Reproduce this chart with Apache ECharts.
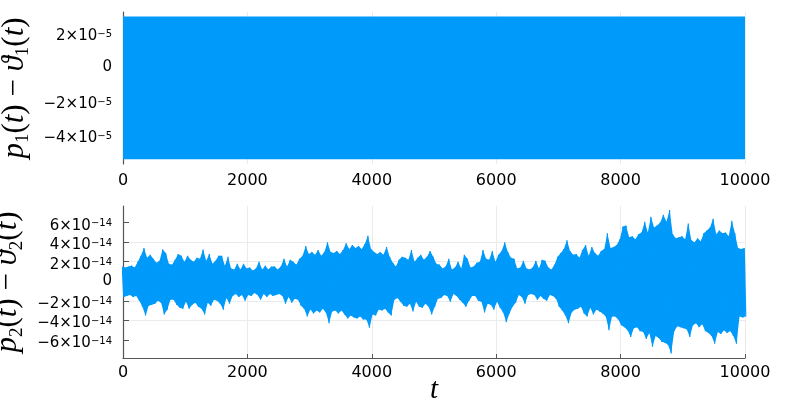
<!DOCTYPE html>
<html>
<head>
<meta charset="utf-8">
<script src="https://cdn.jsdelivr.net/npm/echarts@6.0.0/dist/echarts.min.js"></script>
<style>html,body{margin:0;padding:0;background:#fff}#chart{width:800px;height:400px}</style>
</head>
<body>
<div id="chart"></div>
<script>
// ---- data ----
const xTicks = [0, 2000, 4000, 6000, 8000, 10000];
// top panel: p1 - theta1, envelope (units of 1e-5), sampled every 1000
const topT = [0, 1000, 2000, 3000, 4000, 5000, 6000, 7000, 8000, 9000, 10000];
const topUpper = [2.98, 2.98, 2.98, 2.98, 2.98, 2.98, 2.98, 2.98, 2.98, 2.98, 2.98];
const topLower = [-5.42, -5.42, -5.42, -5.42, -5.42, -5.42, -5.42, -5.42, -5.42, -5.42, -5.42];
const topYTicks = [-4, -2, 0, 2];
// bottom panel: p2 - theta2, extremes (units of 1e-14) read every 50 time units
const botStep = 50;
const botUpper = [
 1.5,1.4,1.5,1.6,1.4,2.0,2.6,3.4,2.4,2.7,
 2.3,1.9,2.1,3.25,2.9,1.8,1.7,2.2,2.8,2.6,
 2.0,2.6,2.2,2.0,2.4,2.3,3.25,2.1,2.8,1.8,
 2.1,2.6,2.6,1.6,2.5,1.3,1.2,1.8,1.2,1.8,
 1.3,1.4,1.1,1.3,2.0,1.2,1.6,1.2,1.5,1.5,
 1.2,1.5,2.3,1.5,2.2,2.0,1.7,2.3,2.6,3.6,
 2.8,3.0,2.7,3.2,2.6,3.0,4.0,3.0,2.9,3.1,
 2.8,3.2,3.9,3.3,3.7,3.4,3.6,3.3,3.8,4.65,
 3.3,3.0,2.8,3.0,2.7,3.5,2.5,1.9,1.5,2.2,
 2.5,2.4,2.2,3.2,2.0,2.4,2.7,2.2,2.5,3.1,
 2.5,1.8,1.7,1.3,1.5,2.3,1.2,1.4,2.0,1.3,
 2.7,2.3,1.4,1.5,1.9,2.0,3.2,2.3,2.2,3.1,
 2.0,2.7,3.1,4.0,3.0,2.4,2.3,1.3,1.4,2.1,
 1.3,1.2,1.4,2.1,1.3,2.2,2.1,1.4,1.2,1.7,
 2.5,2.9,3.3,4.2,3.1,2.7,2.8,2.4,3.2,3.7,
 2.6,3.5,2.9,2.6,3.1,3.3,4.9,3.4,3.5,3.7,
 4.3,5.6,5.7,4.5,4.6,4.3,4.8,5.0,6.1,5.0,
 6.6,5.5,5.7,6.0,6.8,6.1,7.3,4.8,4.4,4.5,
 4.6,4.3,5.9,4.2,4.0,4.4,4.1,4.9,5.2,5.5,
 6.4,4.8,5.2,4.9,5.0,4.6,6.2,4.9,3.4,3.3,
 3.4
];
const botLower = [
 -1.6,-1.5,-1.4,-1.6,-1.5,-2.0,-2.6,-3.5,-2.5,-2.4,
 -2.3,-2.0,-2.2,-3.4,-2.9,-1.9,-1.9,-2.4,-2.7,-2.8,
 -2.1,-2.8,-2.4,-2.2,-2.6,-2.8,-3.4,-2.2,-2.5,-1.9,
 -2.0,-2.3,-2.9,-1.7,-2.3,-1.5,-1.3,-1.6,-1.4,-2.0,
 -1.4,-1.5,-1.2,-1.4,-1.9,-1.3,-1.6,-1.3,-1.5,-1.4,
 -1.3,-1.5,-2.3,-1.6,-2.2,-1.8,-1.9,-2.5,-2.8,-3.6,
 -2.9,-3.3,-3.0,-3.2,-2.8,-3.2,-4.3,-3.1,-3.0,-3.3,
 -3.0,-3.4,-3.8,-3.5,-3.7,-3.8,-3.6,-3.9,-3.9,-4.75,
 -3.4,-3.5,-2.9,-3.0,-2.8,-3.2,-3.5,-1.9,-1.7,-2.1,
 -2.5,-2.6,-2.3,-3.1,-2.1,-2.6,-2.7,-2.3,-2.6,-3.4,
 -2.6,-1.8,-1.7,-1.4,-1.5,-2.1,-1.3,-1.5,-1.9,-2.2,
 -2.6,-2.0,-1.5,-1.5,-2.0,-2.1,-3.2,-2.3,-2.4,-2.9,
 -2.1,-2.7,-3.2,-4.2,-3.3,-2.6,-2.2,-1.4,-1.6,-2.3,
 -1.4,-1.3,-1.4,-1.9,-1.5,-1.8,-2.0,-1.4,-1.5,-1.8,
 -2.6,-3.0,-3.5,-4.3,-3.2,-2.9,-2.8,-2.6,-3.3,-3.6,
 -2.7,-3.4,-2.9,-3.1,-3.3,-3.6,-5.0,-3.6,-3.6,-3.9,
 -4.5,-4.7,-5.0,-5.7,-4.8,-4.7,-5.1,-5.2,-5.9,-5.3,
 -6.7,-5.6,-5.8,-6.2,-6.3,-6.5,-7.4,-5.1,-4.6,-4.7,
 -4.8,-4.9,-5.7,-4.5,-4.3,-4.7,-4.4,-5.1,-5.3,-5.6,
 -6.4,-5.2,-5.4,-5.0,-5.3,-5.1,-5.6,-6.4,-3.6,-3.7,
 -3.6
];
const botYTicks = [-6, -4, -2, 0, 2, 4, 6];

// ---- build ----
const BLUE = '#009AFA';
const topScale = 1e-5, botScale = 1e-14;
const topData = topT.map((t, i) => [t, topUpper[i] * topScale, topLower[i] * topScale]);
const botT = botUpper.map((u, i) => i * botStep);
const botBand = botT.map((t, i) => [t, botUpper[i] * botScale, botLower[i] * botScale]);
const botData = [];
botT.forEach((t, i) => {
  botData.push([t - botStep / 4, botUpper[i] * botScale]);
  botData.push([t + botStep / 4, botLower[i] * botScale]);
});

// polygon band between upper and lower extremes, drawn through the axis scales
function bandRenderer(ts, ups, lows, scale, dx) {
  return function (params, api) {
    if (params.dataIndex !== 0) return null;
    const pts = [];
    for (let i = 0; i < ts.length; i++) pts.push(api.coord([ts[i] - dx, ups[i] * scale]));
    for (let i = ts.length - 1; i >= 0; i--) pts.push(api.coord([ts[i] + dx, lows[i] * scale]));
    return { type: 'polygon', shape: { points: pts }, style: { fill: BLUE } };
  };
}

const serif = "'Liberation Serif', 'DejaVu Serif', serif";
const nameRich = {
  i: { fontFamily: serif, fontStyle: 'italic', fontSize: 31, lineHeight: 36, color: '#000' },
  n: { fontFamily: serif, fontSize: 31, lineHeight: 36, color: '#000' },
  b: { fontFamily: serif, fontSize: 19, lineHeight: 19, padding: [17, 0, 0, 0], color: '#000' }
};
const labelRich = {
  m: { fontFamily: 'DejaVu Sans', fontSize: 15, lineHeight: 8, padding: [6, 0, 0, 0], color: '#000' },
  s: { fontFamily: 'DejaVu Sans', fontSize: 10, lineHeight: 6, verticalAlign: 'top', color: '#000' },
  z: { fontFamily: 'DejaVu Sans', fontSize: 15, lineHeight: 8, color: '#000' }
};
function sciFormatter(exp, scale, ticks) {
  return function (v) {
    const k = Math.round(v / scale);
    if (Math.abs(v - k * scale) > scale * 0.01 || ticks.indexOf(k) < 0) return '';
    if (k === 0) return '{z|0}';
    return '{m|' + (k < 0 ? '\u2212' : '') + Math.abs(k) + '\u00d710}{s|\u2212' + exp + '}';
  };
}
const AXIS = '#555';
const GRID = '#ebebeb';
function xAxis(idx, showLine, margin) {
  return {
    type: 'value', gridIndex: idx, min: 0, max: 10000, interval: 2000,
    axisLine: { show: showLine, onZero: false, lineStyle: { color: AXIS, width: 1.2 } },
    axisTick: { show: showLine, inside: true, length: 4, lineStyle: { color: AXIS } },
    axisLabel: { margin: margin, fontFamily: 'DejaVu Sans', fontSize: 16, color: '#000',
      showMinLabel: true, showMaxLabel: true, formatter: v => String(v) },
    splitLine: { show: true, lineStyle: { color: GRID, width: 1 } }
  };
}
// main y axis: line, ticks at all tick values, grid lines, labels at labelTicks
function yAxis(idx, min, max, scale, exp, ticks, labelTicks, name) {
  return {
    type: 'value', gridIndex: idx, min: min * scale, max: max * scale,
    splitNumber: 8, minInterval: 2 * scale, maxInterval: 2 * scale,
    axisLine: { show: true, onZero: false, lineStyle: { color: AXIS, width: 1.2 } },
    axisTick: { show: true, inside: true, length: 6, lineStyle: { color: AXIS },
      customValues: ticks.map(k => k * scale) },
    axisLabel: { margin: 11, formatter: sciFormatter(exp, scale, labelTicks), rich: labelRich,
      showMinLabel: true, showMaxLabel: true, hideOverlap: false,
      customValues: labelTicks.map(k => k * scale) },
    splitLine: { show: true, showMinLine: false, showMaxLine: false, lineStyle: { color: GRID, width: 1 } },
    name: name, nameLocation: 'middle', nameRotate: 90, nameGap: 84,
    nameTextStyle: { rich: nameRich }
  };
}
// helper y axis that only carries the remaining labels (avoids overlap hiding)
function yAxisLabelsOnly(idx, min, max, scale, exp, labelTicks) {
  return {
    type: 'value', gridIndex: idx, position: 'left', offset: 0, min: min * scale, max: max * scale,
    splitNumber: 8, minInterval: 2 * scale, maxInterval: 2 * scale,
    axisLine: { show: false }, axisTick: { show: false }, splitLine: { show: false },
    axisLabel: { margin: 11, formatter: sciFormatter(exp, scale, labelTicks), rich: labelRich,
      showMinLabel: true, showMaxLabel: true, hideOverlap: false,
      customValues: labelTicks.map(k => k * scale) }
  };
}

const chart = echarts.init(document.getElementById('chart'), null, { renderer: 'canvas' });
chart.setOption({
  animation: false,
  backgroundColor: '#fff',
  grid: [
    { left: 123, right: 55, top: 12, height: 152, containLabel: false, outerBoundsMode: 'none' },
    { left: 123, right: 55, top: 206, height: 152, containLabel: false, outerBoundsMode: 'none' }
  ],
  xAxis: [xAxis(0, false, 9), xAxis(1, true, 7)],
  yAxis: [
    yAxis(0, -5.7, 3.24, topScale, 5, topYTicks, topYTicks,
      '{i|p}{b|1}{n|(}{i|t}{n|) \u2212 }{i|\u03d1}{b|1}{n|(}{i|t}{n|)}'),
    yAxis(1, -7.85, 7.7, botScale, 14, botYTicks, [-6, -2, 2, 6],
      '{i|p}{b|2}{n|(}{i|t}{n|) \u2212 }{i|\u03d1}{b|2}{n|(}{i|t}{n|)}'),
    yAxisLabelsOnly(1, -7.85, 7.7, botScale, 14, [-4, 0, 4])
  ],
  graphic: [
    { type: 'text', x: 434, y: 390, style: { text: 't', fontFamily: serif, fontStyle: 'italic', fontSize: 29,
      fill: '#000', align: 'center', verticalAlign: 'middle' } }
  ],
  series: [
    {
      type: 'custom', xAxisIndex: 0, yAxisIndex: 0, clip: true,
      data: topData,
      renderItem: bandRenderer(topT, topUpper, topLower, topScale, 0)
    },
    {
      type: 'custom', xAxisIndex: 1, yAxisIndex: 1, clip: true,
      data: botBand,
      renderItem: bandRenderer(botT, botUpper, botLower, botScale, botStep / 4)
    },
    {
      type: 'line', xAxisIndex: 1, yAxisIndex: 1, data: botData,
      showSymbol: false, symbol: 'none', clip: true,
      lineStyle: { color: BLUE, width: 1.2 }
    }
  ]
});
</script>
</body>
</html>
